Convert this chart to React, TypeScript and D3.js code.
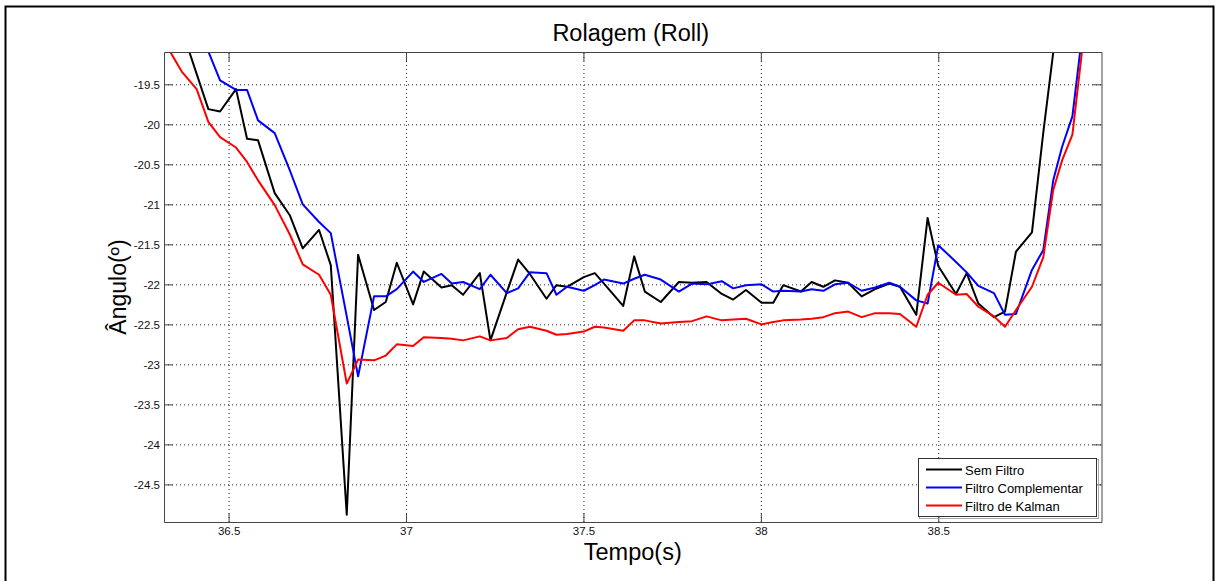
import React, { useRef, useEffect } from 'react';
import * as d3 from 'd3';

// sample times (s), shared by the three series
const tempo = [36.335, 36.368, 36.410, 36.443, 36.476, 36.521, 36.552, 36.583, 36.630, 36.673,
  36.709, 36.755, 36.788, 36.833, 36.865, 36.910, 36.943, 36.974, 37.020, 37.050,
  37.100, 37.129, 37.161, 37.208, 37.238, 37.284, 37.316, 37.349, 37.396, 37.424,
  37.454, 37.501, 37.532, 37.558, 37.612, 37.643, 37.673, 37.718, 37.769, 37.806,
  37.847, 37.890, 37.922, 37.958, 38.002, 38.035, 38.063, 38.113, 38.143, 38.176,
  38.209, 38.246, 38.284, 38.322, 38.362, 38.392, 38.438, 38.470, 38.500, 38.550,
  38.580, 38.613, 38.657, 38.688, 38.719, 38.764, 38.796, 38.824, 38.849, 38.878,
  38.905, 38.933];

const semFiltro = [-18.37, -18.81, -19.37, -19.81, -19.84, -19.56, -20.18, -20.20, -20.86, -21.14,
  -21.55, -21.32, -21.76, -24.88, -21.63, -22.32, -22.22, -21.73, -22.25, -21.84,
  -22.04, -22.01, -22.13, -21.86, -22.70, -22.10, -21.69, -21.87, -22.18, -22.01,
  -22.03, -21.91, -21.86, -21.99, -22.27, -21.65, -22.09, -22.22, -21.97, -21.98,
  -21.97, -22.12, -22.19, -22.07, -22.23, -22.23, -22.01, -22.09, -21.97, -22.03,
  -21.95, -21.98, -22.15, -22.06, -21.99, -22.03, -22.38, -21.17, -21.77, -22.12,
  -21.86, -22.24, -22.41, -22.34, -21.59, -21.35, -20.10, -19.10, -17.95, -17.20,
  -16.90, -16.50];

const complementar = [-17.90, -18.26, -18.73, -19.09, -19.45, -19.57, -19.57, -19.95, -20.11, -20.58,
  -21.00, -21.22, -21.36, -22.40, -23.15, -22.15, -22.15, -22.06, -21.84, -21.97,
  -21.87, -21.99, -21.97, -22.06, -21.88, -22.11, -22.05, -21.85, -21.86, -22.13,
  -22.03, -22.08, -22.01, -21.94, -21.99, -21.93, -21.88, -21.94, -22.09, -21.99,
  -22.00, -21.96, -22.05, -22.01, -22.00, -22.09, -22.08, -22.09, -22.06, -22.08,
  -22.00, -21.98, -22.08, -22.04, -21.98, -22.03, -22.20, -22.24, -21.51, -21.72,
  -21.85, -22.02, -22.11, -22.38, -22.37, -21.82, -21.57, -20.70, -20.28, -19.90,
  -18.90, -17.80];

const kalman = [-19.09, -19.34, -19.56, -19.97, -20.16, -20.29, -20.47, -20.70, -21.01, -21.38,
  -21.75, -21.88, -22.13, -23.24, -22.94, -22.95, -22.89, -22.75, -22.77, -22.66,
  -22.67, -22.68, -22.70, -22.65, -22.70, -22.67, -22.56, -22.53, -22.58, -22.63,
  -22.62, -22.59, -22.53, -22.54, -22.58, -22.45, -22.45, -22.49, -22.47, -22.46,
  -22.40, -22.45, -22.44, -22.43, -22.50, -22.47, -22.45, -22.44, -22.43, -22.41,
  -22.36, -22.34, -22.41, -22.36, -22.36, -22.37, -22.53, -22.13, -21.98, -22.13,
  -22.12, -22.28, -22.40, -22.53, -22.32, -22.03, -21.66, -20.82, -20.45, -20.13,
  -19.09, -18.00];

const xTicks = [36.5, 37, 37.5, 38, 38.5];
const yTicks = [-19.5, -20, -20.5, -21, -21.5, -22, -22.5, -23, -23.5, -24, -24.5];

const seriesNames = ['Sem Filtro', 'Filtro Complementar', 'Filtro de Kalman'];
const seriesColors = ['#000000', '#0000ff', '#ff0000'];

const FONT = '"Liberation Sans", Arial, sans-serif';

function App() {
  const svgRef = useRef(null);

  useEffect(() => {
    const svg = d3.select(svgRef.current);
    svg.selectAll('*').remove();

    const width = 1218;
    const height = 581;
    const left = 164, right = 1101.5, top = 52, bottom = 522;

    svg.attr('width', width).attr('height', height);

    svg.append('rect').attr('width', width).attr('height', height).attr('fill', '#fff');
    // outer figure frame
    svg.append('rect')
      .attr('x', 5.5).attr('y', 6.5)
      .attr('width', 1208).attr('height', 600)
      .attr('fill', 'none').attr('stroke', '#000').attr('stroke-width', 2);

    const x = d3.scaleLinear().domain([36.318, 38.96]).range([left, right]);
    const y = d3.scaleLinear().domain([-24.97, -19.096]).range([bottom, top]);
    const fmt = (d: number) => String(d);

    // grid
    const grid = svg.append('g');
    grid.append('g')
      .attr('transform', `translate(0,${bottom})`)
      .call(d3.axisBottom(x).tickValues(xTicks).tickSize(-(bottom - top)).tickFormat(() => ''))
      .call(g => g.select('.domain').remove())
      .selectAll('line').attr('stroke', '#222').attr('stroke-dasharray', '1,3');
    grid.append('g')
      .attr('transform', `translate(${left},0)`)
      .call(d3.axisLeft(y).tickValues(yTicks).tickSize(-(right - left)).tickFormat(() => ''))
      .call(g => g.select('.domain').remove())
      .selectAll('line').attr('stroke', '#222').attr('stroke-dasharray', '1,3');

    // data lines
    svg.append('clipPath').attr('id', 'plotclip')
      .append('rect').attr('x', left).attr('y', top)
      .attr('width', right - left).attr('height', bottom - top);

    const allSeries = [semFiltro, complementar, kalman];
    const line = d3.line<number>()
      .x((_, i) => x(tempo[i]))
      .y(d => y(d));
    const lines = svg.append('g').attr('clip-path', 'url(#plotclip)');
    allSeries.forEach((s, k) => {
      lines.append('path')
        .datum(s)
        .attr('d', line)
        .attr('fill', 'none')
        .attr('stroke', seriesColors[k])
        .attr('stroke-width', 2)
        .attr('stroke-linejoin', 'round');
    });

    // axes, ticks pointing inward like matlab
    const styleAxis = g => {
      g.select('.domain').attr('stroke', '#444');
      g.selectAll('.tick line').attr('stroke', '#444');
      g.selectAll('text').attr('font-family', FONT).attr('font-size', 11.5).attr('fill', '#111');
    };
    svg.append('g').attr('transform', `translate(0,${bottom})`)
      .call(d3.axisBottom(x).tickValues(xTicks).tickSize(-9).tickSizeOuter(0).tickPadding(5).tickFormat(fmt))
      .call(styleAxis);
    svg.append('g').attr('transform', `translate(0,${top})`)
      .call(d3.axisTop(x).tickValues(xTicks).tickSize(-9).tickSizeOuter(0).tickFormat(() => ''))
      .call(styleAxis);
    svg.append('g').attr('transform', `translate(${left},0)`)
      .call(d3.axisLeft(y).tickValues(yTicks).tickSize(-9).tickSizeOuter(0).tickPadding(4).tickFormat(fmt))
      .call(styleAxis);
    svg.append('g').attr('transform', `translate(${right},0)`)
      .call(d3.axisRight(y).tickValues(yTicks).tickSize(-9).tickSizeOuter(0).tickFormat(() => ''))
      .call(styleAxis);

    // title and labels
    svg.append('text')
      .attr('x', (left + right) / 2 - 2).attr('y', 41)
      .attr('text-anchor', 'middle')
      .attr('font-family', FONT).attr('font-size', 23.5)
      .text('Rolagem (Roll)');
    svg.append('text')
      .attr('x', (left + right) / 2).attr('y', 560)
      .attr('text-anchor', 'middle')
      .attr('font-family', FONT).attr('font-size', 23.5)
      .text('Tempo(s)');
    svg.append('text')
      .attr('transform', `translate(126,${(top + bottom) / 2}) rotate(-90)`)
      .attr('text-anchor', 'middle')
      .attr('font-family', FONT).attr('font-size', 23)
      .text('Ângulo(º)');

    // legend
    const lg = svg.append('g').attr('transform', 'translate(918,458)');
    lg.append('rect').attr('x', 1.5).attr('y', 1.5).attr('width', 179).attr('height', 59)
      .attr('fill', 'none').attr('stroke', '#aaa');
    lg.append('rect').attr('x', 0.5).attr('y', 0.5).attr('width', 178).attr('height', 58)
      .attr('fill', '#fff').attr('stroke', '#333');
    seriesNames.forEach((name, k) => {
      const yy = 11.5 + k * 18;
      lg.append('line').attr('x1', 8).attr('x2', 44).attr('y1', yy).attr('y2', yy)
        .attr('stroke', seriesColors[k]).attr('stroke-width', 2);
      lg.append('text').attr('x', 47).attr('y', yy + 5)
        .attr('font-family', FONT).attr('font-size', 13)
        .text(name);
    });
  }, []);

  return <svg ref={svgRef} style={{ position: 'absolute', left: 0, top: 0, display: 'block' }}></svg>;
}

export default App;
